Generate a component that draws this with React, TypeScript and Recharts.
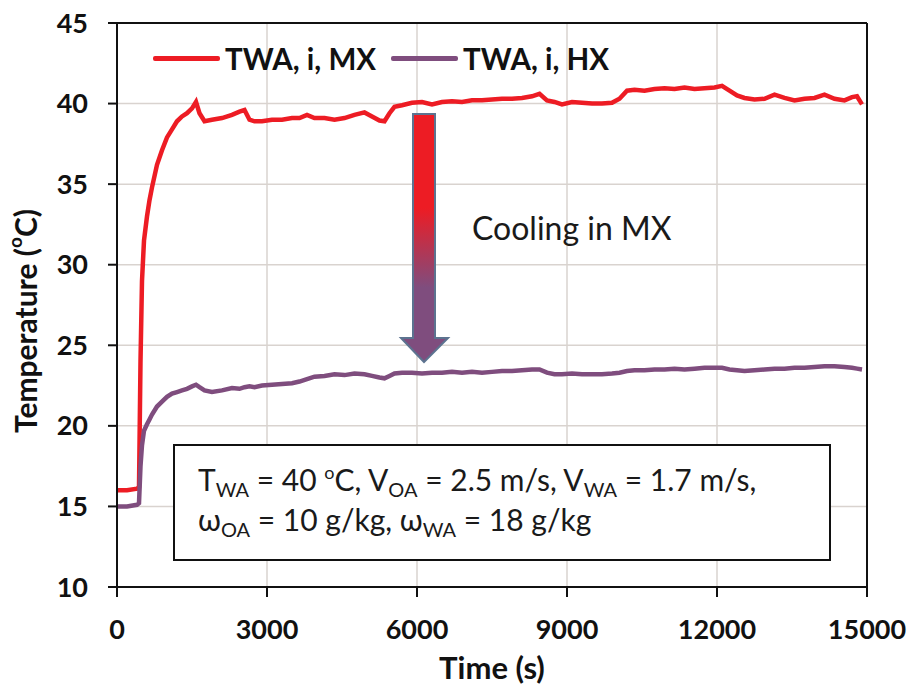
import { LineChart, Line, XAxis, YAxis, CartesianGrid, ReferenceLine } from 'recharts'

const times = [
  0, 200, 400, 440, 470, 500, 540, 600, 650, 700, 800, 900, 1000, 1100, 1200, 1300, 1400, 1500,
  1580, 1650, 1750, 1900, 2100, 2300, 2450, 2550, 2650, 2750, 2900, 3100, 3300, 3500, 3650, 3800,
  3950, 4150, 4350, 4550, 4750, 4950, 5100, 5250, 5350, 5450, 5550, 5700, 5900, 6100, 6300, 6500,
  6700, 6900, 7100, 7300, 7500, 7700, 7900, 8100, 8300, 8450, 8600, 8750, 8900, 9100, 9300, 9500,
  9700, 9900, 10050, 10200, 10350, 10550, 10750, 10950, 11150, 11350, 11550, 11750, 11950, 12100,
  12250, 12400, 12550, 12750, 12950, 13150, 13350, 13550, 13750, 13950, 14150, 14350, 14550, 14700,
  14800, 14900,
]

const twaMX = [
  16.0, 16.0, 16.1, 16.2, 24.0, 29.0, 31.5, 33.0, 34.0, 34.8, 36.2, 37.1, 37.9, 38.4, 38.9, 39.2, 39.4, 39.7,
  40.1, 39.4, 38.9, 39.0, 39.1, 39.3, 39.5, 39.6, 39.0, 38.9, 38.9, 39.0, 39.0, 39.1, 39.1, 39.3,
  39.1, 39.1, 39.0, 39.1, 39.3, 39.45, 39.2, 38.95, 38.9, 39.4, 39.8, 39.9, 40.05, 40.1, 39.95, 40.1,
  40.15, 40.1, 40.2, 40.2, 40.25, 40.3, 40.3, 40.35, 40.45, 40.6, 40.2, 40.1, 39.95, 40.1, 40.05, 40.0,
  40.0, 40.05, 40.3, 40.8, 40.85, 40.8, 40.9, 40.95, 40.9, 41.0, 40.9, 40.95, 41.0, 41.1,
  40.8, 40.5, 40.35, 40.25, 40.3, 40.55, 40.35, 40.2, 40.3, 40.35, 40.55, 40.3, 40.2, 40.4,
  40.45, 39.95,
]

const twaHX = [
  15.0, 15.0, 15.1, 15.2, 17.5, 18.8, 19.7, 20.1, 20.4, 20.7, 21.2, 21.5, 21.8, 22.0, 22.1, 22.2, 22.3, 22.45,
  22.55, 22.4, 22.2, 22.1, 22.2, 22.35, 22.3, 22.4, 22.45, 22.4, 22.5, 22.55, 22.6, 22.65, 22.75, 22.9,
  23.05, 23.1, 23.2, 23.15, 23.25, 23.2, 23.1, 23.0, 22.95, 23.1, 23.25, 23.3, 23.3, 23.25, 23.3, 23.3,
  23.35, 23.3, 23.35, 23.3, 23.35, 23.4, 23.4, 23.45, 23.5, 23.5, 23.3, 23.2, 23.2, 23.25, 23.2, 23.2,
  23.2, 23.25, 23.3, 23.4, 23.45, 23.45, 23.5, 23.5, 23.55, 23.5, 23.55, 23.6, 23.6, 23.6,
  23.5, 23.45, 23.4, 23.45, 23.5, 23.55, 23.55, 23.6, 23.6, 23.65, 23.7, 23.7, 23.65, 23.6,
  23.55, 23.5,
]

const xTicks = [0, 3000, 6000, 9000, 12000, 15000]
const yTicks = [10, 15, 20, 25, 30, 35, 40, 45]

const RED = '#ed1c24'
const PURPLE = '#7f4d7e'
const GRID = '#d9d3cf'
const FONT = 'Lato, "Open Sans", sans-serif'

const data = times.map((t, i) => ({ t, mx: twaMX[i], hx: twaHX[i] }))

const tickStyle = { fill: '#111', fontSize: 27, fontWeight: 700, fontFamily: FONT }

const legendItems = [
  { label: 'TWA, i, MX', color: RED },
  { label: 'TWA, i, HX', color: PURPLE },
]

function LegendBox() {
  return (
    <div style={{ position: 'absolute', left: 153, top: 41, display: 'flex', alignItems: 'center', fontFamily: FONT, fontWeight: 700, fontSize: 29.5, color: '#111' }}>
      {legendItems.map((it, i) => (
        <div key={it.label} style={{ display: 'flex', alignItems: 'center', marginLeft: i ? 15 : 0 }}>
          <span style={{ display: 'inline-block', width: 67, height: 5, background: it.color, borderRadius: 2, marginRight: 5 }} />
          <span>{it.label}</span>
        </div>
      ))}
    </div>
  )
}

function YLabel(props: any) {
  const vb = props.viewBox
  const cx = 25
  const cy = vb.y + vb.height / 2 + 16
  return (
    <text x={cx} y={cy} transform={`rotate(-90 ${cx} ${cy})`} textAnchor="middle" dominantBaseline="central"
      style={{ fontFamily: FONT, fontWeight: 700, fontSize: 30, fill: '#111' }}>
      Temperature (<tspan fontSize={19} dy={-11}>o</tspan><tspan dy={11}>C)</tspan>
    </text>
  )
}

function XLabel(props: any) {
  const vb = props.viewBox
  return (
    <text x={vb.x + vb.width / 2} y={679} textAnchor="middle"
      style={{ fontFamily: FONT, fontWeight: 700, fontSize: 31, fill: '#111' }}>
      Time (s)
    </text>
  )
}

function Annotations() {
  const sub = { fontSize: 20 }
  return (
    <svg width={913} height={688} style={{ position: 'absolute', left: 0, top: 0, pointerEvents: 'none' }}>
      <defs>
        <linearGradient id="arrowGrad" x1="0" y1="114" x2="0" y2="362" gradientUnits="userSpaceOnUse">
          <stop offset="0.38" stopColor={RED} />
          <stop offset="0.7" stopColor={PURPLE} />
        </linearGradient>
      </defs>
      <path d="M413,114 L435,114 L435,338 L448,338 L424,362 L401,338 L413,338 Z"
        fill="url(#arrowGrad)" stroke="#5c7390" strokeWidth={2} strokeLinejoin="miter" />
      <text x={472} y={240} style={{ fontFamily: FONT, fontSize: 32, fill: '#1a1a1a' }}>Cooling in MX</text>
      <rect x={174} y={445} width={656} height={115} fill="#fff" stroke="#111" strokeWidth={2} />
      <text x={198} y={491} style={{ fontFamily: FONT, fontSize: 30, fill: '#1a1a1a' }}>
        T<tspan {...sub} dy={6}>WA</tspan><tspan dy={-6}> = 40 </tspan>
        <tspan fontSize={18} dy={-12}>o</tspan><tspan dy={12}>C, V</tspan>
        <tspan {...sub} dy={6}>OA</tspan><tspan dy={-6}> = 2.5 m/s, V</tspan>
        <tspan {...sub} dy={6}>WA</tspan><tspan dy={-6}> = 1.7 m/s,</tspan>
      </text>
      <text x={198} y={531} style={{ fontFamily: FONT, fontSize: 30, fill: '#1a1a1a' }}>
        ω<tspan {...sub} dy={6}>OA</tspan><tspan dy={-6}> = 10 g/kg, ω</tspan>
        <tspan {...sub} dy={6}>WA</tspan><tspan dy={-6}> = 18 g/kg</tspan>
      </text>
    </svg>
  )
}

export default function App() {
  return (
    <div style={{ position: 'absolute', left: 0, top: 0, width: 913, height: 688, background: '#fff' }}>
      <LineChart width={913} height={688} data={data} margin={{ top: 23, right: 46, left: 0, bottom: 0 }}>
        <CartesianGrid stroke={GRID} strokeWidth={1.5} horizontalValues={yTicks} verticalValues={xTicks} />
        <XAxis dataKey="t" type="number" domain={[0, 15000]} ticks={xTicks} height={101}
          stroke="#111" strokeWidth={2} tickSize={10} tickMargin={23} tick={tickStyle}
          tickLine={{ stroke: '#111', strokeWidth: 2 }} label={<XLabel />} />
        <YAxis type="number" domain={[10, 45]} ticks={yTicks} width={117}
          stroke="#111" strokeWidth={2} tickSize={9} tickMargin={20} tick={tickStyle}
          tickLine={{ stroke: '#111', strokeWidth: 2 }} label={<YLabel />} />
        <ReferenceLine y={45} stroke="#111" strokeWidth={2} />
        <ReferenceLine x={15000} stroke="#111" strokeWidth={2} />
        <Line dataKey="mx" name="TWA, i, MX" stroke={RED} strokeWidth={4.5} dot={false} isAnimationActive={false} />
        <Line dataKey="hx" name="TWA, i, HX" stroke={PURPLE} strokeWidth={4.5} dot={false} isAnimationActive={false} />
      </LineChart>
      <LegendBox />
      <Annotations />
    </div>
  )
}
